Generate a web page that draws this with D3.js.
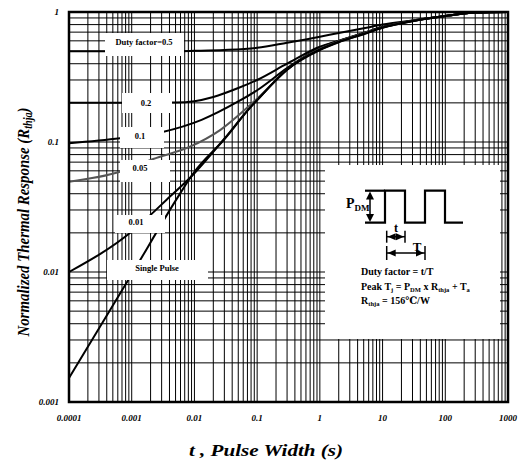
<!DOCTYPE html>
<html><head><meta charset="utf-8">
<script src="https://cdn.jsdelivr.net/npm/d3@7/dist/d3.min.js"></script>
<style>body{margin:0;background:#fff}svg{display:block}</style>
</head><body>
<script>
// ---- data ----
const xTicks = [0.0001, 0.001, 0.01, 0.1, 1, 10, 100, 1000];
const xTickLabels = ["0.0001", "0.001", "0.01", "0.1", "1", "10", "100", "1000"];
const yTicks = [0.001, 0.01, 0.1, 1];
const yTickLabels = ["0.001", "0.01", "0.1", "1"];

const duty05 = [[1e-4,0.5],[0.001,0.5],[0.005,0.5],[0.01,0.503],[0.03,0.51],[0.1,0.53],[0.3,0.58],[1,0.645],[2,0.69],[5,0.75],[10,0.8],[30,0.86],[100,0.93],[300,0.99],[1000,1]];
const duty02 = [[1e-4,0.2],[0.001,0.2],[0.005,0.201],[0.01,0.206],[0.02,0.222],[0.05,0.26],[0.1,0.30],[0.3,0.40],[1,0.54],[2,0.6],[5,0.69],[10,0.77],[30,0.86],[100,0.93],[300,0.99],[1000,1]];
const duty01 = [[1e-4,0.098],[0.00065,0.107],[0.003,0.119],[0.013,0.148],[0.05,0.205],[0.1,0.25],[0.3,0.37],[1,0.53],[2,0.6],[5,0.69],[10,0.765],[30,0.855],[100,0.93],[300,0.99],[1000,1]];
const duty005 = [[1e-4,0.0495],[0.00065,0.059],[0.0022,0.074],[0.0085,0.092],[0.026,0.124],[0.077,0.192],[0.11,0.225],[0.3,0.36],[1,0.52],[2,0.595],[5,0.685],[10,0.76],[30,0.855],[100,0.93],[300,0.99],[1000,1]];
const duty001 = [[1e-4,0.01],[0.001,0.0205],[0.002,0.0275],[0.0036,0.036],[0.0095,0.056],[0.03,0.106],[0.077,0.184],[0.1,0.21],[0.3,0.36],[1,0.515],[2,0.59],[5,0.68],[10,0.76],[30,0.85],[100,0.93],[300,0.99],[1000,1]];
const singlePulse = [[1e-4,0.00153],[0.001,0.0096],[0.0055,0.038],[0.0095,0.057],[0.03,0.105],[0.077,0.183],[0.1,0.21],[0.3,0.36],[1,0.51],[2,0.585],[5,0.675],[10,0.755],[30,0.85],[100,0.93],[300,0.99],[1000,1]];

const seriesNames = ["Duty factor=0.5", "0.2", "0.1", "0.05", "0.01", "Single Pulse"];
const seriesData = [duty05, duty02, duty01, duty005, duty001, singlePulse];

// ---- layout ----
const W = 519, H = 461;
const svg = d3.select("body").append("svg").attr("width", W).attr("height", H);
const x = d3.scaleLog().domain([1e-4, 1e3]).range([69, 508]);
const y = d3.scaleLog().domain([1e-3, 1]).range([402, 12]);
const serif = "Liberation Serif, DejaVu Serif, serif";

// grid
const g = svg.append("g");
const vLines = [], hLines = [];
for (let e = -4; e < 3; e++) for (let m = 1; m <= 9; m++) vLines.push(m * Math.pow(10, e));
for (let e = -3; e < 0; e++) for (let m = 1; m <= 9; m++) hLines.push(m * Math.pow(10, e));
g.selectAll(".v").data(vLines).join("line")
  .attr("x1", d => x(d)).attr("x2", d => x(d)).attr("y1", 12).attr("y2", 402)
  .attr("stroke", "#000").attr("stroke-width", 1);
g.selectAll(".h").data(hLines).join("line")
  .attr("y1", d => y(d)).attr("y2", d => y(d)).attr("x1", 69).attr("x2", 508)
  .attr("stroke", "#000").attr("stroke-width", 1);

// curves
const line = d3.line().x(d => x(d[0])).y(d => y(d[1])).curve(d3.curveMonotoneX);
const colors = ["#000", "#000", "#000", "#555", "#000", "#000"];
svg.append("g").selectAll("path").data(seriesData).join("path")
  .attr("d", line).attr("fill", "none")
  .attr("stroke", (d, i) => colors[i]).attr("stroke-width", 2);

// label boxes (white background covering grid & curves)
const labelBoxes = [
  {x0: 105, x1: 184, y0: 33, y1: 56, tx: 144, ty: 42},
  {x0: 122, x1: 172, y0: 93, y1: 113, tx: 146, ty: 103},
  {x0: 120, x1: 164, y0: 127, y1: 148, tx: 140, ty: 136},
  {x0: 120, x1: 170, y0: 160, y1: 182, tx: 140, ty: 168},
  {x0: 115, x1: 165, y0: 215, y1: 233, tx: 136, ty: 222},
  {x0: 107, x1: 208, y0: 260, y1: 280, tx: 157, ty: 268}
];
const lb = svg.append("g");
labelBoxes.forEach((b, i) => {
  lb.append("rect").attr("x", b.x0).attr("y", b.y0).attr("width", b.x1 - b.x0).attr("height", b.y1 - b.y0).attr("fill", "#fff");
  lb.append("text").attr("x", b.tx).attr("y", b.ty).attr("dy", "0.35em").attr("text-anchor", "middle")
    .attr("font-family", serif).attr("font-weight", "bold").attr("font-size", 8.5).text(seriesNames[i]);
});

// frame
svg.append("rect").attr("x", 69).attr("y", 12).attr("width", 439).attr("height", 390)
  .attr("fill", "none").attr("stroke", "#000").attr("stroke-width", 2.5);

// info box
const ib = svg.append("g");
ib.append("rect").attr("x", 325).attr("y", 165).attr("width", 175).attr("height", 174).attr("fill", "#fff");
ib.append("path").attr("d", "M365,222.7 H385 V190.7 H405 V222.7 H425 V190.7 H445 V222.7 H463")
  .attr("fill", "none").attr("stroke", "#000").attr("stroke-width", 2.2);
ib.append("line").attr("x1", 365).attr("x2", 385).attr("y1", 190.7).attr("y2", 190.7).attr("stroke", "#000").attr("stroke-width", 2.2);
function arrowV(x0, ya, yb) {
  ib.append("line").attr("x1", x0).attr("x2", x0).attr("y1", ya + 6).attr("y2", yb - 6).attr("stroke", "#000").attr("stroke-width", 1.5);
  ib.append("path").attr("d", `M${x0},${ya} L${x0-4},${ya+8} L${x0+4},${ya+8} Z`);
  ib.append("path").attr("d", `M${x0},${yb} L${x0-4},${yb-8} L${x0+4},${yb-8} Z`);
}
function arrowH(xa, xb, y0, h) {
  ib.append("line").attr("x1", xa).attr("x2", xb).attr("y1", y0).attr("y2", y0).attr("stroke", "#000").attr("stroke-width", 1.5);
  ib.append("line").attr("x1", xa).attr("x2", xa).attr("y1", y0 - h).attr("y2", y0 + h).attr("stroke", "#000").attr("stroke-width", 1.5);
  ib.append("line").attr("x1", xb).attr("x2", xb).attr("y1", y0 - h).attr("y2", y0 + h).attr("stroke", "#000").attr("stroke-width", 1.5);
  ib.append("path").attr("d", `M${xa+1},${y0} L${xa+9},${y0-3.5} L${xa+9},${y0+3.5} Z`);
  ib.append("path").attr("d", `M${xb-1},${y0} L${xb-9},${y0-3.5} L${xb-9},${y0+3.5} Z`);
}
arrowV(370, 191.5, 222);
arrowH(386.7, 405, 236.7, 6);
arrowH(386.7, 425, 253, 7);
const tf = (sel) => sel.attr("font-family", serif).attr("font-weight", "bold");
tf(ib.append("text").attr("x", 346).attr("y", 208).attr("font-size", 14)).html('P<tspan font-size="9" dy="3">DM</tspan>');
tf(ib.append("text").attr("x", 396).attr("y", 232).attr("font-size", 12).attr("text-anchor", "middle")).text("t");
tf(ib.append("text").attr("x", 417).attr("y", 251).attr("font-size", 13).attr("text-anchor", "middle")).text("T");
tf(ib.append("text").attr("x", 361).attr("y", 275).attr("font-size", 10)).text("Duty factor = t/T");
tf(ib.append("text").attr("x", 361).attr("y", 290).attr("font-size", 10))
  .html('Peak T<tspan font-size="6.5" dy="2">j</tspan><tspan dy="-2"> = P</tspan><tspan font-size="6.5" dy="2">DM</tspan><tspan dy="-2"> x R</tspan><tspan font-size="6.5" dy="2">thja</tspan><tspan dy="-2"> + T</tspan><tspan font-size="6.5" dy="2">a</tspan>');
tf(ib.append("text").attr("x", 361).attr("y", 304).attr("font-size", 10))
  .html('R<tspan font-size="6.5" dy="2">thja</tspan><tspan dy="-2"> = 156℃/W</tspan>');

// tick labels
const tickFont = (sel) => sel.attr("font-family", serif).attr("font-weight", "bold").attr("font-style", "italic").attr("font-size", 9);
tickFont(svg.append("g").selectAll("text").data(xTicks).join("text")
  .attr("x", d => x(d)).attr("y", 421).attr("text-anchor", "middle").text((d, i) => xTickLabels[i]));
tickFont(svg.append("g").selectAll("text").data(yTicks).join("text")
  .attr("x", 59).attr("y", d => y(d) + 3).attr("text-anchor", "end").text((d, i) => yTickLabels[i]));

// axis titles
svg.append("text").attr("transform", "translate(266,456) scale(1.28,1)").attr("text-anchor", "middle")
  .attr("font-family", serif).attr("font-weight", "bold").attr("font-style", "italic").attr("font-size", 16.5)
  .text("t , Pulse Width (s)");
svg.append("text").attr("transform", "translate(29,222) rotate(-90) scale(0.85,1)").attr("text-anchor", "middle")
  .attr("font-family", serif).attr("font-weight", "bold").attr("font-style", "italic").attr("font-size", 17.5)
  .html('Normalized Thermal Response (R<tspan font-size="12" dy="3">thja</tspan><tspan dy="-3">)</tspan>');
</script>
</body></html>
